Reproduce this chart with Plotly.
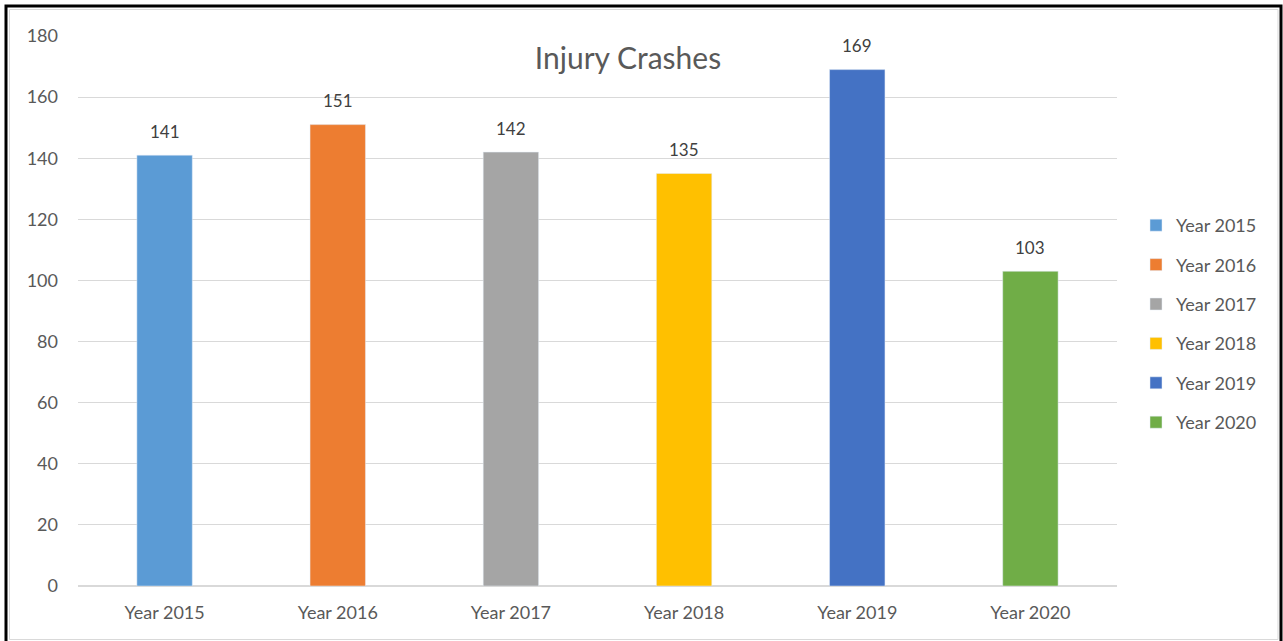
import plotly.graph_objects as go

years = ["Year 2015", "Year 2016", "Year 2017", "Year 2018", "Year 2019", "Year 2020"]
crashes = [141, 151, 142, 135, 169, 103]
colors = ["#5B9BD5", "#ED7D31", "#A5A5A5", "#FFC000", "#4472C4", "#70AD47"]

W, H = 1283, 641
L, R, T, B = 78, 166, 36, 55
pw, ph = W - L - R, H - T - B

def px_x(p):
    return (p - L) / pw

def px_y(p):
    return (H - B - p) / ph

fig = go.Figure()
for i, (yr, v, c) in enumerate(zip(years, crashes, colors)):
    fig.add_trace(go.Bar(x=[yr], y=[v], name=yr, marker_color=c, legendgroup=str(i)))
    # value label sits a bit higher than plotly's outside text would
    fig.add_annotation(x=yr, y=v, text=str(v), showarrow=False, yshift=24,
                       font=dict(size=17, color="#404040"))

fig.update_layout(
    width=W, height=H,
    margin=dict(l=L, r=R, t=T, b=B),
    paper_bgcolor="white", plot_bgcolor="white",
    barmode="relative", bargap=0.68,
    font=dict(family="Lato, Open Sans, sans-serif", color="#595959", size=18),
    title=dict(text="Injury Crashes", x=628 / W, xanchor="center",
               y=1 - 58 / H, yanchor="middle", yref="container",
               font=dict(size=30, color="#595959")),
    legend=dict(x=px_x(1136), xanchor="left", y=px_y(207), yanchor="top",
                font=dict(size=18, color="#595959"), tracegroupgap=13,
                itemwidth=30),
    shapes=[
        dict(type="rect", xref="paper", yref="paper",
             x0=px_x(6), x1=px_x(1281), y0=px_y(645), y1=px_y(6),
             line=dict(color="black", width=3)),
        dict(type="rect", xref="paper", yref="paper",
             x0=px_x(9.5), x1=px_x(1278), y0=px_y(639.5), y1=px_y(9.5),
             line=dict(color="#d9d9d9", width=1)),
    ],
)
fig.update_xaxes(showgrid=False, showline=False, ticks="", ticklabelstandoff=14,
                 tickfont=dict(size=18, color="#595959"))
fig.update_yaxes(range=[0, 180], dtick=20, showgrid=True, gridcolor="#d9d9d9",
                 gridwidth=1, zeroline=True, zerolinecolor="#d9d9d9",
                 showline=False, ticks="", ticklabelstandoff=19,
                 tickfont=dict(size=18, color="#595959"))

fig.write_html("out.html", config={"displayModeBar": False},
               post_script="document.body.style.margin='0';")
